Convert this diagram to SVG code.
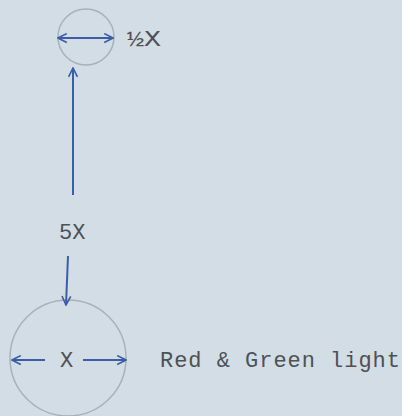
<svg xmlns="http://www.w3.org/2000/svg" width="402" height="416" viewBox="0 0 402 416">
<defs>
<marker id="ah" viewBox="0 0 10 10" refX="9" refY="5" markerWidth="11" markerHeight="11" orient="auto-start-reverse" markerUnits="userSpaceOnUse">
<path d="M1,1 L9,5 L1,9" fill="none" stroke="#3d5ea6" stroke-width="1.5"/>
</marker>
<style>
.c{fill:none;stroke:#a9b1b9;stroke-width:1.5}
.a{fill:none;stroke:#3d5ea6;stroke-width:2;marker-end:url(#ah)}
.t{font-family:"Liberation Mono","DejaVu Sans Mono",monospace;fill:#4e5156}
</style>
</defs>
<rect width="402" height="416" fill="#d2dde5"/>
<g id="small-circle">
<circle class="c" cx="86" cy="37" r="28"/>
<line class="a" x1="58" y1="38" x2="113" y2="38" style="marker-start:url(#ah)"/>
<text class="t" x="127" y="46" font-size="22" textLength="34" lengthAdjust="spacingAndGlyphs">½X</text>
</g>
<g id="big-circle">
<circle class="c" cx="68" cy="358" r="58"/>
<text class="t" x="60" y="367" font-size="22">X</text>
<text class="t" x="160" y="367" font-size="22" textLength="240" lengthAdjust="spacing">Red &amp; Green light</text>
</g>
<g id="label-5x">
<text class="t" x="59" y="239" font-size="22">5X</text>
</g>
<g id="connectors">
<line class="a" x1="73" y1="195" x2="73" y2="68"/>
<line class="a" x1="68" y1="256" x2="66" y2="305"/>
<line class="a" x1="45" y1="360" x2="12" y2="360"/>
<line class="a" x1="83" y1="360" x2="126" y2="360"/>
</g>
</svg>
